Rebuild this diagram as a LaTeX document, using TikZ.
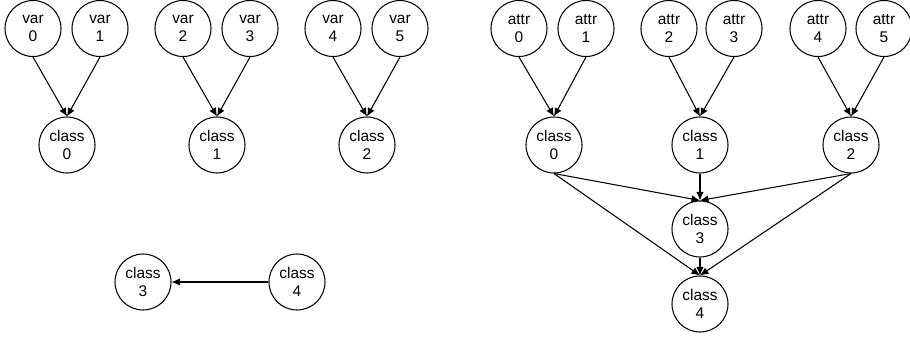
\documentclass[tikz,border=0pt]{standalone}
\usepackage{fontspec}
\setmainfont{Liberation Sans}
\usetikzlibrary{arrows.meta}

\begin{document}
\begin{tikzpicture}[
    state/.style={draw, circle, line width=0.6pt, minimum size=1.12cm, inner sep=0pt,
                  align=center, font=\fontsize{8.8}{10.2}\selectfont},
    edge/.style={line width=0.6pt, -{Latex[length=1.7mm,width=1.5mm]}}
]
\useasboundingbox (0,0) rectangle (18.2,-6.72);

% Primeiro grafo: var -> class
\node (var0) [state] at (0.66,-0.57) {var\\0};
\node (var1) [state] at (2.0,-0.57) {var\\1};
\node (lc0) [state] at (1.34,-2.9) {class\\0};

\node (var2) [state] at (3.66,-0.57) {var\\2};
\node (var3) [state] at (5.0,-0.57) {var\\3};
\node (lc1) [state] at (4.34,-2.9) {class\\1};

\node (var4) [state] at (6.66,-0.57) {var\\4};
\node (var5) [state] at (8.0,-0.57) {var\\5};
\node (lc2) [state] at (7.34,-2.9) {class\\2};

\node (lc3) [state] at (2.86,-5.64) {class\\3};
\node (lc4) [state] at (5.94,-5.64) {class\\4};

% Setas do primeiro grafo
\draw[edge] (var0.south) -- (lc0.north);
\draw[edge] (var1.south) -- (lc0.north);
\draw[edge] (var2.south) -- (lc1.north);
\draw[edge] (var3.south) -- (lc1.north);
\draw[edge] (var4.south) -- (lc2.north);
\draw[edge] (var5.south) -- (lc2.north);
\draw[edge] (lc4.west) -- (lc3.east);

% Segundo grafo: attr -> class
\node (attr0) [state] at (10.38,-0.57) {attr\\0};
\node (attr1) [state] at (11.72,-0.57) {attr\\1};
\node (rc0) [state] at (11.08,-2.9) {class\\0};

\node (attr2) [state] at (13.38,-0.57) {attr\\2};
\node (attr3) [state] at (14.68,-0.57) {attr\\3};
\node (rc1) [state] at (14.0,-2.9) {class\\1};

\node (attr4) [state] at (16.36,-0.57) {attr\\4};
\node (attr5) [state] at (17.68,-0.57) {attr\\5};
\node (rc2) [state] at (17.02,-2.9) {class\\2};

\node (rc3) [state] at (14.0,-4.58) {class\\3};
\node (rc4) [state] at (14.0,-6.08) {class\\4};

% Setas do segundo grafo
\draw[edge] (attr0.south) -- (rc0.north);
\draw[edge] (attr1.south) -- (rc0.north);
\draw[edge] (attr2.south) -- (rc1.north);
\draw[edge] (attr3.south) -- (rc1.north);
\draw[edge] (attr4.south) -- (rc2.north);
\draw[edge] (attr5.south) -- (rc2.north);

\draw[edge] (rc0.south) -- (rc3.north);
\draw[edge] (rc1.south) -- (rc3.north);
\draw[edge] (rc2.south) -- (rc3.north);
\draw[edge] (rc0.south) -- (rc4.north);
\draw[edge] (rc3.south) -- (rc4.north);
\draw[edge] (rc2.south) -- (rc4.north);

\end{tikzpicture}
\end{document}
